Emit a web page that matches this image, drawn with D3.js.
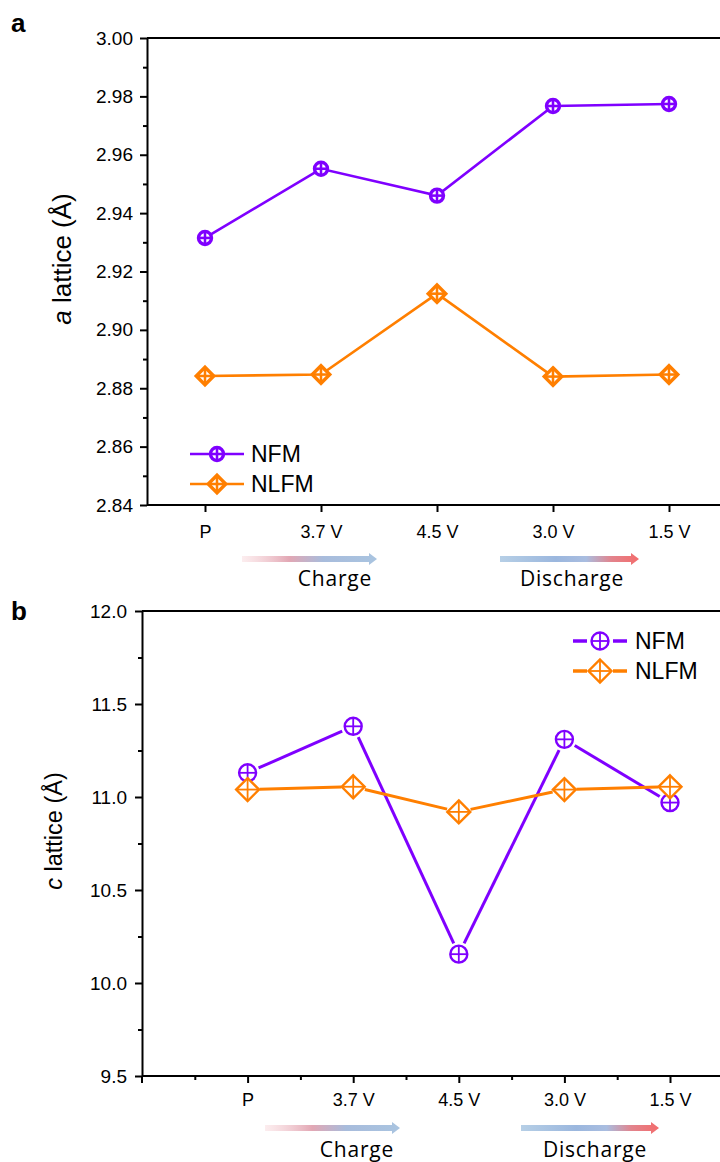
<!DOCTYPE html>
<html><head><meta charset="utf-8">
<script src="https://cdn.jsdelivr.net/npm/d3@7"></script>
<style>body{margin:0;background:#fff}svg{display:block}</style>
</head><body>
<svg id="c" width="720" height="1162"></svg>
<script>
const categories = ["P","3.7 V","4.5 V","3.0 V","1.5 V"];
const aNFM  = [2.9315, 2.9552, 2.9460, 2.9767, 2.9774];
const aNLFM = [2.8842, 2.8847, 2.9124, 2.8840, 2.8847];
const cNFM  = [11.13, 11.38, 10.155, 11.31, 10.97];
const cNLFM = [11.04, 11.055, 10.92, 11.04, 11.055];
const aTicks = [2.84,2.86,2.88,2.90,2.92,2.94,2.96,2.98,3.00];
const cTicks = [9.5,10.0,10.5,11.0,11.5,12.0];
const seriesNames = ["NFM","NLFM"];
const colors = {NFM:"#7f00ff", NLFM:"#ff7f00"};
const FONT = "'Liberation Sans', Arial, sans-serif";

const svg = d3.select("#c");
const defs = svg.append("defs");
function grad(id, stops){
  const g = defs.append("linearGradient").attr("id",id).attr("x1","0%").attr("x2","100%");
  stops.forEach(s=>g.append("stop").attr("offset",s[0]).attr("stop-color",s[1]).attr("stop-opacity",s[2]==null?1:s[2]));
}
grad("gCharge",[["0%","#f7d2d6",0.4],["35%","#e2a7b4"],["60%","#a8bcdc"],["100%","#a9c4e0"]]);
grad("gDis",[["0%","#b6cfe6"],["40%","#9bb7de"],["62%","#a9bde0"],["80%","#e2848d"],["100%","#f36c6c"]]);

function marker(g, type, x, y, col, r, sw, fill){
  const m = g.append("g").attr("transform",`translate(${x},${y})`);
  if(type==="circle"){
    m.append("circle").attr("r",r).attr("fill",fill).attr("stroke",col).attr("stroke-width",sw);
  } else {
    const d = r*1.35;
    m.append("path").attr("d",`M0,${-d}L${d},0L0,${d}L${-d},0Z`).attr("fill",fill).attr("stroke",col).attr("stroke-width",sw).attr("stroke-linejoin","miter");
  }
  const e = type==="circle"? r : r*1.35;
  m.append("line").attr("x1",-e).attr("x2",e).attr("stroke",col).attr("stroke-width",sw*0.75);
  m.append("line").attr("y1",-e).attr("y2",e).attr("stroke",col).attr("stroke-width",sw*0.75);
}

function panel(o){
  const g = svg.append("g");
  const x = d3.scaleLinear().domain(o.xDomain).range([o.left, o.left + (o.xDomain[1]-o.xDomain[0])*o.step]);
  const y = d3.scaleLinear().domain(o.yDomain).range([o.bottom, o.top]);
  const right = 720;
  g.append("line").attr("x1",o.left).attr("x2",right+5).attr("y1",o.top).attr("y2",o.top).attr("stroke","#000").attr("stroke-width",2);
  const yMinor = [];
  for(let i=0;i<o.yTicks.length-1;i++) yMinor.push((o.yTicks[i]+o.yTicks[i+1])/2);
  const yAx = g.append("g").attr("transform",`translate(${o.left},0)`)
    .call(d3.axisLeft(y).tickValues(o.yTicks).tickFormat(d3.format(o.fmt)).tickSize(7).tickSizeOuter(0));
  yAx.attr("font-size",null).attr("font-family",null);
  yAx.select(".domain").attr("stroke-width",2);
  yAx.selectAll(".tick line").attr("stroke-width",2);
  yAx.selectAll(".tick text").style("font-family",FONT).style("font-size",o.tickFont+"px").attr("fill","#000").attr("x",o.yLabX);
  g.append("g").attr("transform",`translate(${o.left},0)`).call(d3.axisLeft(y).tickValues(yMinor).tickFormat("").tickSize(4)).call(s=>{s.select(".domain").remove();s.selectAll("line").attr("stroke-width",2);});

  const xIdx = categories.map((c,i)=>i+1);
  const xAx = g.append("g").attr("transform",`translate(0,${o.bottom})`)
    .call(d3.axisBottom(x).tickValues(xIdx).tickFormat((d,i)=>categories[i]).tickSize(7).tickSizeOuter(0));
  xAx.attr("font-size",null).attr("font-family",null);
  xAx.select(".domain").attr("d",`M${o.left},0H${right+5}`).attr("stroke-width",2);
  xAx.selectAll(".tick line").attr("stroke-width",2);
  xAx.selectAll(".tick text").style("font-family",FONT).style("font-size",o.xTickFont+"px").attr("fill","#000").attr("y",o.xLabY).attr("dy",0);
  const xMinor = d3.range(o.xDomain[0]+0.5, o.xDomain[1], 1).filter(v=>xIdx.indexOf(v)<0);
  g.append("g").attr("transform",`translate(0,${o.bottom})`).call(d3.axisBottom(x).tickValues(xMinor).tickFormat("").tickSize(4)).call(s=>{s.select(".domain").remove();s.selectAll("line").attr("stroke-width",2);});
  g.append("line").attr("x1",o.left).attr("x2",o.left).attr("y1",o.bottom).attr("y2",o.bottom+o.startTick).attr("stroke","#000").attr("stroke-width",2);

  [[o.s1,"NFM","circle"],[o.s2,"NLFM","diamond"]].forEach(([vals,name,type])=>{
    const col = colors[name];
    const pts = vals.map((v,i)=>[x(i+1), y(v)]);
    if(o.gap){
      for(let i=0;i<pts.length-1;i++){
        const [x1,y1]=pts[i],[x2,y2]=pts[i+1];
        const L=Math.hypot(x2-x1,y2-y1), ux=(x2-x1)/L, uy=(y2-y1)/L;
        g.append("line").attr("x1",x1+ux*o.gap).attr("y1",y1+uy*o.gap).attr("x2",x2-ux*o.gap).attr("y2",y2-uy*o.gap)
          .attr("stroke",col).attr("stroke-width",o.lw);
      }
    } else {
      g.append("path").attr("d",d3.line()(pts)).attr("fill","none").attr("stroke",col).attr("stroke-width",o.lw);
    }
    pts.forEach(p=>marker(g,type,p[0],p[1],col,o.mr,o.msw,"#fff"));
  });

  seriesNames.forEach((name,i)=>{
    const ly = o.legY + i*o.legDy, col = colors[name];
    if(o.gap){
      g.append("line").attr("x1",o.legX).attr("x2",o.legX+14).attr("y1",ly).attr("y2",ly).attr("stroke",col).attr("stroke-width",o.lw+0.5);
      g.append("line").attr("x1",o.legX+40).attr("x2",o.legX+54).attr("y1",ly).attr("y2",ly).attr("stroke",col).attr("stroke-width",o.lw+0.5);
    } else {
      g.append("line").attr("x1",o.legX).attr("x2",o.legX+54).attr("y1",ly).attr("y2",ly).attr("stroke",col).attr("stroke-width",o.lw);
    }
    marker(g, i===0?"circle":"diamond", o.legX+27, ly, col, o.legMr, o.msw, "#fff");
    g.append("text").attr("x",o.legX+o.legTx).attr("y",ly).attr("dy","0.36em").style("font-family",FONT)
      .style("font-size",o.legFont+"px").text(name);
  });

  const t = g.append("text").attr("transform",`translate(${o.ytX},${o.ytY}) rotate(-90)`).attr("text-anchor","middle")
    .style("font-family",FONT).style("font-size",o.ytFont+"px");
  t.append("tspan").attr("font-style","italic").text(o.ytVar);
  t.append("tspan").text(" lattice (Å)");

  g.append("text").attr("x",11).attr("y",o.letterY).style("font-family",FONT).attr("font-weight","bold").style("font-size","26px").text(o.letter);

  [[o.chg,"url(#gCharge)","Charge"],[o.dis,"url(#gDis)","Discharge"]].forEach(([a,fill,label])=>{
    const x1=a[0], x2=a[1], ay=o.arrowY;
    g.append("path").attr("d",`M${x1},${ay-3}H${x2-8}V${ay-6}L${x2},${ay}L${x2-8},${ay+6}V${ay+3}H${x1}Z`).attr("fill",fill);
    g.append("text").attr("x",a[2]).attr("y",o.arrowTextY).attr("text-anchor","middle").style("font-family","'Open Sans', Lato, sans-serif")
      .style("font-size","21px").style("letter-spacing","0.8px").text(label);
  });
}

panel({letter:"a", letterY:32, left:147, step:116, xDomain:[0.5,5.5], top:38, bottom:505, yDomain:[2.84,3.00], yTicks:aTicks, fmt:".2f",
  tickFont:19, yLabX:-14, xTickFont:18, xLabY:33, startTick:0, s1:aNFM, s2:aNLFM, gap:0, lw:2.6, mr:6.5, msw:3.4,
  legX:190, legY:454, legDy:30, legMr:6.5, legFont:23, legTx:61, ytX:71, ytY:259, ytFont:26, ytVar:"a",
  arrowY:559, arrowTextY:586, chg:[242,377,335], dis:[500,639,572]});

panel({letter:"b", letterY:620, left:142, step:105.6, xDomain:[0,6], top:611, bottom:1076, yDomain:[9.5,12.0], yTicks:cTicks, fmt:".1f",
  tickFont:19, yLabX:-15, xTickFont:18, xLabY:30, startTick:7, s1:cNFM, s2:cNLFM, gap:12, lw:3, mr:8.5, msw:2.4,
  legX:573, legY:641, legDy:30, legMr:8.5, legFont:23, legTx:62, ytX:62, ytY:831, ytFont:23.5, ytVar:"c",
  arrowY:1128, arrowTextY:1157, chg:[265,400,357], dis:[521,659,595]});
</script>
</body></html>
